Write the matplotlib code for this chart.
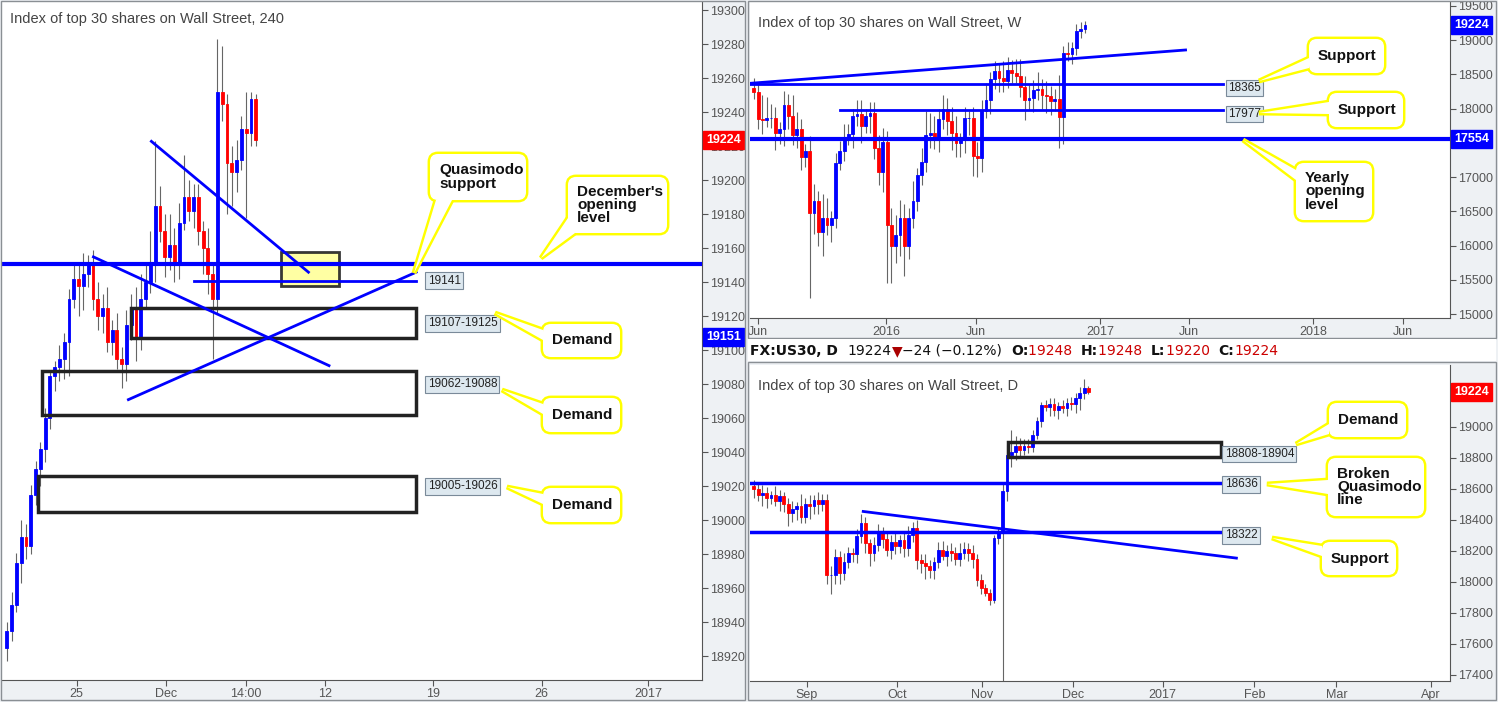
import matplotlib
matplotlib.use("Agg")
import matplotlib.pyplot as plt
import matplotlib.transforms as mtransforms
from matplotlib.patches import Rectangle, FancyBboxPatch, Polygon

plt.rcParams['font.family'] = ['Liberation Sans', 'DejaVu Sans']

# ---------- données ----------
# 240 minutes
h4_close = [18935, 18950, 18975, 18990, 18985, 19015, 19030, 19042, 19060, 19085,
            19090, 19095, 19105, 19130, 19142, 19138, 19145, 19150, 19130, 19120,
            19125, 19105, 19112, 19095, 19092, 19115, 19125, 19108, 19130, 19140,
            19150, 19185, 19170, 19155, 19162, 19150, 19175, 19190, 19182, 19190,
            19170, 19160, 19145, 19130, 19252, 19245, 19210, 19205, 19212, 19230,
            19228, 19248, 19224]
h4_first_open = 18925
h4_up = [5, 8, 6, 10, 8, 6, 5, 4, 6, 3,
         4, 8, 5, 6, 10, 8, 12, 6, 9, 10,
         8, 12, 6, 10, 7, 9, 8, 12, 15, 10,
         20, 38, 12, 10, 18, 10, 12, 25, 10, 8,
         8, 6, 12, 5, 31, 27, 6, 10, 12, 8,
         22, 4, 3]
h4_dn = [8, 6, 4, 12, 8, 5, 6, 10, 8, 6,
         9, 8, 12, 20, 5, 18, 14, 8, 6, 8,
         10, 6, 8, 6, 14, 10, 9, 14, 8, 5,
         6, 10, 6, 12, 8, 10, 8, 4, 6, 10,
         8, 15, 12, 35, 8, 10, 30, 20, 12, 6,
         50, 8, 4]
h4_ticks = [14.6, 33.3, 50, 66.5, 89, 111.7, 134]
h4_ticklabels = ["25", "Dec", "14:00", "12", "19", "26", "2017"]

# hebdo
w_close = [18240, 17850, 17830, 17870, 17870, 17640, 17700, 18060, 17900, 17620,
           17700, 17300, 17380, 16470, 16650, 16200, 16400, 16300, 16400, 17200,
           17380, 17570, 17630, 17900, 17920, 17750, 17900, 17940, 17420, 17080,
           17520, 16300, 16000, 16150, 16410, 16000, 16400, 16650, 17030, 17220,
           17620, 17640, 17560, 17850, 18000, 17820, 17650, 17500, 17550, 17870,
           17870, 17310, 17280, 17970, 18120, 18440, 18550, 18450, 18400, 18560,
           18520, 18470, 18320, 18130, 18150, 18270, 18290, 18200, 18180, 18110,
           18140, 17880, 18820, 18800, 18880, 19130, 19160, 19224]
w_first_open = 18300
w_up = [150, 120, 350, 300, 200, 150, 100, 200, 150, 300,
        250, 150, 100, 220, 250, 150, 350, 300, 100, 150,
        150, 200, 150, 100, 200, 200, 100, 150, 150, 200,
        200, 150, 250, 300, 250, 200, 150, 300, 100, 200,
        350, 300, 250, 150, 200, 150, 200, 250, 100, 150,
        100, 150, 200, 150, 250, 100, 150, 100, 250, 200,
        150, 200, 250, 150, 200, 150, 250, 150, 200, 150,
        150, 350, 100, 150, 100, 100, 100, 60]
w_dn = [100, 150, 200, 100, 150, 250, 150, 250, 200, 150,
        200, 200, 150, 1230, 300, 200, 350, 150, 250, 150,
        100, 150, 100, 200, 150, 250, 100, 250, 150, 200,
        300, 850, 550, 250, 300, 450, 200, 150, 150, 150,
        150, 200, 150, 200, 150, 200, 250, 200, 200, 200,
        250, 300, 280, 200, 100, 200, 150, 200, 150, 100,
        150, 100, 150, 300, 150, 200, 150, 200, 250, 200,
        150, 460, 400, 100, 150, 100, 100, 50]
w_ticks = [1, 30.7, 51.6, 80.5, 101.2, 130, 151]
w_ticklabels = ["Jun", "2016", "Jun", "2017", "Jun", "2018", "Jun"]

# journalier
d_close = [18600, 18560, 18575, 18540, 18560, 18520, 18552, 18500, 18444, 18470,
           18487, 18420, 18500, 18487, 18530, 18500, 18530, 18045, 18045, 18160,
           18060, 18130, 18186, 18180, 18294, 18380, 18250, 18186, 18240, 18315,
           18280, 18207, 18260, 18230, 18272, 18220, 18300, 18347, 18142, 18120,
           18100, 18078, 18130, 18207, 18170, 18200, 18186, 18150, 18190, 18210,
           18186, 18150, 18013, 17960, 17927, 17884, 18282, 18320, 18584, 18821,
           18840, 18880, 18850, 18880, 18870, 18950, 19037, 19144, 19130, 19150,
           19110, 19133, 19120, 19155, 19150, 19190, 19220, 19252, 19224]
d_first_open = 18620
d_up = [40, 30, 50, 40, 30, 60, 40, 30, 40, 50,
        30, 80, 40, 60, 30, 50, 40, 40, 60, 50,
        40, 60, 40, 30, 50, 60, 40, 30, 50, 60,
        40, 50, 40, 60, 30, 50, 60, 40, 50, 40,
        60, 40, 30, 50, 60, 40, 50, 40, 60, 50,
        40, 50, 30, 40, 30, 30, 20, 30, 60, 60,
        140, 60, 50, 40, 40, 30, 30, 20, 30, 40,
        40, 30, 40, 30, 40, 30, 40, 60, 10]
d_dn = [60, 40, 70, 60, 40, 30, 60, 50, 80, 60,
        70, 40, 40, 80, 50, 60, 40, 60, 120, 60,
        70, 50, 40, 50, 60, 40, 60, 80, 50, 40,
        60, 40, 60, 50, 40, 60, 50, 40, 60, 60,
        80, 50, 60, 40, 30, 70, 50, 40, 50, 40,
        50, 60, 40, 40, 20, 30, 20, 40, 1100, 60,
        80, 50, 40, 30, 40, 30, 30, 40, 30, 60,
        40, 60, 30, 50, 40, 60, 80, 40, 10]
d_ticks = [12.3, 33.3, 53.3, 74.4, 95.3, 116.7, 135.8, 157.9]
d_ticklabels = ["Sep", "Oct", "Nov", "Dec", "2017", "Feb", "Mar", "Apr"]

BLEU = "#0000ff"
ROUGE = "#ff0000"
W, H = 1498, 702


def px_axes(fig, x0, y0, x1, y1):
    return fig.add_axes([x0 / W, 1 - y1 / H, (x1 - x0) / W, (y1 - y0) / H])


def bougies(ax, first_open, closes, up, dn, largeur=0.6):
    o = first_open
    for i, c in enumerate(closes):
        hi = max(o, c) + up[i]
        lo = min(o, c) - dn[i]
        ax.vlines(i, lo, hi, color="#666666", lw=0.8, zorder=2)
        couleur = BLEU if c >= o else ROUGE
        ax.bar(i, max(abs(c - o), 0.5), bottom=min(o, c), width=largeur,
               color=couleur, ec=couleur, lw=0.6, zorder=3)
        o = c


def style_axe(ax, xlim, ylim, ticks, labels, yticks):
    ax.set_xlim(*xlim)
    ax.set_ylim(*ylim)
    ax.yaxis.tick_right()
    ax.set_yticks(yticks)
    ax.set_xticks(ticks)
    ax.set_xticklabels(labels)
    ax.tick_params(colors="#555555", labelsize=9, length=4, pad=2)
    for s in ["top", "left"]:
        ax.spines[s].set_visible(False)
    for s in ["right", "bottom"]:
        ax.spines[s].set_color("#555555")


def etiquette_prix(ax, xf, y, txt):
    ax.text(xf, y, txt, transform=mtransforms.blended_transform_factory(ax.transAxes, ax.transData),
            fontsize=8.5, va="center", ha="left", color="#222222", zorder=6,
            bbox=dict(boxstyle="square,pad=0.2", fc="#dde8ef", ec="#7a8a99", lw=0.8))


def tag_axe(ax, y, txt, couleur):
    ax.text(1.006, y, txt, transform=mtransforms.blended_transform_factory(ax.transAxes, ax.transData),
            fontsize=9, fontweight="bold", va="center", ha="left", color="white", zorder=6,
            clip_on=False, bbox=dict(boxstyle="square,pad=0.25", fc=couleur, ec=couleur))


fig = plt.figure(figsize=(W / 100, H / 100), dpi=100)
fig.patch.set_facecolor("#eef1f4")

# ---------- panneau 240 ----------
ax1 = px_axes(fig, 2, 2, 702, 680)
bougies(ax1, h4_first_open, h4_close, h4_up, h4_dn, largeur=0.6)
style_axe(ax1, (-1.0, 145.2), (18906, 19305), h4_ticks, h4_ticklabels, range(18920, 19301, 20))
ax1.text(0.012, 0.985, "Index of top 30 shares on Wall Street, 240", transform=ax1.transAxes,
         fontsize=10.5, color="#444444", va="top")
ax1.axhline(19151, color=BLEU, lw=3, zorder=4)
ax1.plot([39.2, 85.5], [19141, 19141], color=BLEU, lw=2, zorder=4)
ax1.add_patch(Rectangle((57.3, 19138), 12.1, 20, fc="#ffff99", ec="#222222", lw=2, zorder=3, alpha=0.9))
ax1.plot([30.2, 63], [19223, 19146], color=BLEU, lw=2, zorder=5)
ax1.plot([18.1, 67.3], [19155, 19091], color=BLEU, lw=2, zorder=5)
ax1.plot([25.4, 85.5], [19071, 19146], color=BLEU, lw=2, zorder=5)
for x0, bas, haut in [(26, 19107, 19125), (7.3, 19062, 19088), (6.5, 19005, 19026)]:
    ax1.add_patch(Rectangle((x0, bas), 85.5 - x0, haut - bas, fc="none", ec="#222222", lw=2.5, zorder=4))
etiquette_prix(ax1, 0.608, 19141, "19141")
etiquette_prix(ax1, 0.608, 19116, "19107-19125")
etiquette_prix(ax1, 0.608, 19080, "19062-19088")
etiquette_prix(ax1, 0.608, 19020, "19005-19026")
tag_axe(ax1, 19224, "19224", ROUGE)
tag_axe(ax1, 19108, "19151", BLEU)

# ---------- panneau hebdo ----------
ax2 = px_axes(fig, 750, 2, 1450, 318)
bougies(ax2, w_first_open, w_close, w_up, w_dn, largeur=0.65)
style_axe(ax2, (-0.9, 161.9), (14942, 19558), w_ticks, w_ticklabels, range(15000, 19501, 500))
ax2.text(0.012, 0.955, "Index of top 30 shares on Wall Street, W", transform=ax2.transAxes,
         fontsize=10.5, color="#444444", va="top")
ax2.axhline(17554, color=BLEU, lw=3, zorder=4)
ax2.plot([-0.9, 109], [18365, 18365], color=BLEU, lw=2, zorder=4)
ax2.plot([20, 109], [17977, 17977], color=BLEU, lw=2, zorder=4)
ax2.plot([-0.9, 100.4], [18370, 18857], color=BLEU, lw=2, zorder=4)
etiquette_prix(ax2, 0.683, 18300, "18365")
etiquette_prix(ax2, 0.683, 17920, "17977")
tag_axe(ax2, 19224, "19224", BLEU)
tag_axe(ax2, 17554, "17554", BLEU)

# ---------- panneau journalier ----------
ax3 = px_axes(fig, 750, 365, 1450, 681)
bougies(ax3, d_first_open, d_close, d_up, d_dn, largeur=0.65)
style_axe(ax3, (-0.9, 162.3), (17361, 19400), d_ticks, d_ticklabels, range(17400, 19001, 200))
ax3.text(0.012, 0.955, "Index of top 30 shares on Wall Street, D", transform=ax3.transAxes,
         fontsize=10.5, color="#444444", va="top")
ax3.plot([-0.9, 109], [18636, 18636], color=BLEU, lw=2.5, zorder=4)
ax3.plot([-0.9, 109], [18322, 18322], color=BLEU, lw=2.5, zorder=4)
ax3.plot([25.5, 112.5], [18455, 18154], color=BLEU, lw=2, zorder=4)
ax3.add_patch(Rectangle((59.3, 18808), 49.7, 96, fc="none", ec="#222222", lw=2.5, zorder=4))
etiquette_prix(ax3, 0.678, 18826, "18808-18904")
etiquette_prix(ax3, 0.678, 18630, "18636")
etiquette_prix(ax3, 0.678, 18300, "18322")
tag_axe(ax3, 19224, "19224", ROUGE)

# ---------- couche en pixels : bulles et en-tête ----------
ov = fig.add_axes([0, 0, 1, 1], zorder=10)
ov.set_xlim(0, W)
ov.set_ylim(H, 0)
ov.axis("off")
ov.patch.set_alpha(0)

# cadres des panneaux
for x0, y0, x1, y1 in [(1, 1, 745, 700), (748, 1, 1496, 338), (748, 362, 1496, 700)]:
    ov.add_patch(Rectangle((x0, y0), x1 - x0, y1 - y0, fc="none", ec="#8a8f94", lw=1))

bulles = [
    ("Quasimodo\nsupport", (430, 154, 526, 200), [(436, 200), (452, 200)], (414, 273)),
    ("December's\nopening\nlevel", (568, 177, 667, 233), [(568, 218), (575, 233)], (541, 258)),
    ("Demand", (543, 324, 620, 357), [(543, 330), (543, 340)], (495, 313)),
    ("Demand", (543, 398, 620, 432), [(543, 404), (543, 414)], (502, 390)),
    ("Demand", (543, 488, 620, 522), [(543, 494), (543, 504)], (507, 487)),
    ("Support", (1309, 39, 1384, 73), [(1309, 58), (1309, 68)], (1259, 81)),
    ("Support", (1329, 93, 1403, 127), [(1329, 102), (1329, 114)], (1259, 113)),
    ("Yearly\nopening\nlevel", (1296, 163, 1372, 220), [(1296, 170), (1296, 180)], (1243, 140)),
    ("Demand", (1329, 403, 1406, 437), [(1329, 424), (1329, 434)], (1296, 444)),
    ("Broken\nQuasimodo\nline", (1328, 458, 1424, 516), [(1328, 480), (1328, 494)], (1267, 484)),
    ("Support", (1322, 542, 1396, 575), [(1322, 546), (1322, 556)], (1272, 538)),
]
for txt, (x0, y0, x1, y1), base, pointe in bulles:
    pts = [base[0], pointe, base[1]]
    boite = dict(boxstyle="round,pad=0,rounding_size=8")
    ov.add_patch(Polygon(pts, closed=True, fc="white", ec="#ffff00", lw=3.5, zorder=1))
    ov.add_patch(FancyBboxPatch((x0, y0), x1 - x0, y1 - y0, fc="white", ec="#ffff00", lw=3.5, zorder=1, **boite))
    ov.add_patch(Polygon(pts, closed=True, fc="white", ec="none", zorder=2))
    ov.add_patch(FancyBboxPatch((x0, y0), x1 - x0, y1 - y0, fc="white", ec="none", zorder=2, **boite))
    ov.text(x0 + 9, (y0 + y1) / 2, txt, fontsize=11, fontweight="bold", color="#111111",
            va="center", ha="left", zorder=3, linespacing=0.95)

# en-tête du graphique journalier, morceaux posés les uns après les autres
ov.add_patch(Rectangle((748, 339), 748, 22, fc="white", ec="none"))
entete = [("FX:US30, D  ", "#111111", "bold"), ("19224", "#111111", "normal"),
          ("▼", "#aa0000", "normal"), ("−24 (−0.12%)  ", "#111111", "normal"),
          ("O:", "#111111", "bold"), ("19248  ", "#cc0000", "normal"),
          ("H:", "#111111", "bold"), ("19248  ", "#cc0000", "normal"),
          ("L:", "#111111", "bold"), ("19220  ", "#cc0000", "normal"),
          ("C:", "#111111", "bold"), ("19224", "#cc0000", "normal")]
fig.canvas.draw()
rend = fig.canvas.get_renderer()
x = 750
for t, c, w in entete:
    tt = ov.text(x, 351, t, fontsize=10, color=c, fontweight=w, va="center", ha="left",
                 family=['DejaVu Sans'])
    bb = tt.get_window_extent(renderer=rend)
    x += bb.width

fig.savefig("out.png", dpi=100)
